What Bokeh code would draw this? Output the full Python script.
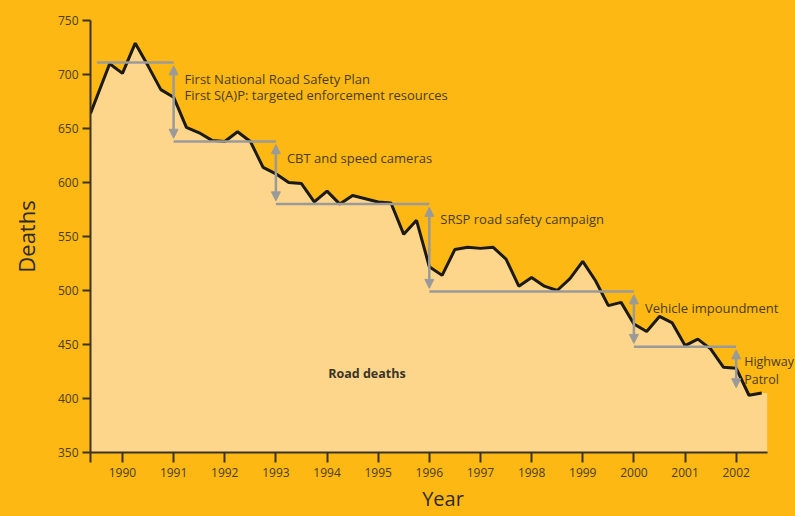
from bokeh.plotting import figure
from bokeh.models import Range1d, FixedTicker, ColumnDataSource, Arrow, NormalHead, Label
from bokeh.embed import file_html
from bokeh.resources import INLINE

# ---- data ----
years = [1989.375, 1989.75,
         1990.0, 1990.25, 1990.5, 1990.75,
         1991.0, 1991.25, 1991.5, 1991.75,
         1992.0, 1992.25, 1992.5, 1992.75,
         1993.0, 1993.25, 1993.5, 1993.75,
         1994.0, 1994.25, 1994.5, 1994.75,
         1995.0, 1995.25, 1995.5, 1995.75,
         1996.0, 1996.25, 1996.5, 1996.75,
         1997.0, 1997.25, 1997.5, 1997.75,
         1998.0, 1998.25, 1998.5, 1998.75,
         1999.0, 1999.25, 1999.5, 1999.75,
         2000.0, 2000.25, 2000.5, 2000.75,
         2001.0, 2001.25, 2001.5, 2001.75,
         2002.0, 2002.25, 2002.5]
deaths = [664, 710,
          701, 729, 708, 686,
          679, 651, 646, 639,
          638, 647, 638, 614,
          608, 600, 599, 582,
          592, 580, 588, 585,
          582, 581, 552, 565,
          522, 514, 538, 540,
          539, 540, 529, 504,
          512, 504, 500, 511,
          527, 509, 486, 489,
          469, 462, 476, 470,
          449, 455, 446, 429,
          428, 403, 405]

x_ticks = [1990, 1991, 1992, 1993, 1994, 1995, 1996, 1997, 1998, 1999, 2000, 2001, 2002]
y_ticks = [350, 400, 450, 500, 550, 600, 650, 700, 750]

# step levels of the interventions
level_years = [1989.5, 1991, 1993, 1996, 2000, 2002]
levels = [711, 638, 580, 499, 448, 407]

ann_text = ["First National Road Safety Plan",
            "First S(A)P: targeted enforcement resources",
            "CBT and speed cameras",
            "SRSP road safety campaign",
            "Vehicle impoundment",
            "Highway",
            "Patrol"]
ann_x = [1991, 1991, 1993, 1996, 2000, 2002, 2002]
ann_y = [696, 681, 623, 566, 484, 434, 418]

series_label = "Road deaths"

# ---- styles ----
BG = "#FDB813"
FILL = "#FED68B"
LINE = "#1c1a16"
GREY = "#9a9a9a"
TXT = "#4a3c1c"
AX = "#3b3324"
FONT = "Open Sans"

X0, X1 = 1989.375, 2002.607     # extent of the axis
XV = 2003.16                     # view extends to the right edge so labels are not cut
Y0, Y1 = 350, 750

p = figure(width=795, height=516, output_backend="svg", toolbar_location=None,
           x_range=Range1d(X0, XV), y_range=Range1d(Y0, Y1),
           min_border_left=90, min_border_right=0, min_border_top=20, min_border_bottom=64)
p.background_fill_color = BG
p.border_fill_color = BG
p.styles = {"background-color": BG}
p.outline_line_color = None
p.grid.visible = False

# area under the curve, extended to the end of the axis
fill_x = years + [X1]
fill_y = deaths + [deaths[-1]]
p.varea(x=fill_x, y1=[Y0] * len(fill_x), y2=fill_y, fill_color=FILL)
p.line(years, deaths, line_color=LINE, line_width=3)

# horizontal level lines
p.segment(x0=level_years[:-1], x1=level_years[1:], y0=levels[:-1], y1=levels[:-1],
          line_color=GREY, line_width=2.5)

# double headed arrows
gap = 3
arr_src = ColumnDataSource(dict(x=level_years[1:],
                                y0=[v - gap for v in levels[:-1]],
                                y1=[v + gap for v in levels[1:]]))
p.add_layout(Arrow(source=arr_src, x_start="x", y_start="y0", x_end="x", y_end="y1",
                   line_color=GREY, line_width=2.5,
                   start=NormalHead(size=9, fill_color=GREY, line_color=GREY, line_width=1),
                   end=NormalHead(size=9, fill_color=GREY, line_color=GREY, line_width=1)))

# annotation texts
for tx, xx, yy in zip(ann_text, ann_x, ann_y):
    last = (xx == ann_x[-1])
    p.add_layout(Label(x=xx, y=yy, text=tx, x_offset=8 if last else 11,
                       text_font=FONT, text_font_size="12.5px" if last else "13px",
                       text_color=TXT, text_baseline="alphabetic", text_align="left"))

p.add_layout(Label(x=1994.78, y=423, text=series_label, text_font=FONT,
                   text_font_size="12.5px", text_font_style="bold", text_color="#3a3428",
                   text_align="center", text_baseline="alphabetic"))

# axes
p.xaxis.ticker = FixedTicker(ticks=[X0] + x_ticks)
p.xaxis.major_label_overrides = {X0: ""}
p.xaxis.bounds = (X0, X1)
p.yaxis.ticker = FixedTicker(ticks=y_ticks)
for ax in (p.xaxis, p.yaxis):
    ax.axis_line_color = AX
    ax.axis_line_width = 2
    ax.major_tick_line_color = AX
    ax.major_tick_line_width = 2
    ax.major_tick_in = 0
    ax.minor_tick_line_color = None
    ax.major_label_text_font = FONT
    ax.major_label_text_font_size = "12px"
    ax.major_label_text_color = TXT
    ax.axis_label_text_font = FONT
    ax.axis_label_text_font_style = "normal"
    ax.axis_label_text_color = "#2e2a20"
p.xaxis.major_tick_out = 10
p.yaxis.major_tick_out = 8
p.xaxis.major_label_standoff = 5
p.yaxis.major_label_standoff = 4
p.xaxis.axis_label = "Year"
p.yaxis.axis_label = "Deaths"
p.xaxis.axis_label_text_font_size = "20px"
p.yaxis.axis_label_text_font_size = "22px"
p.xaxis.axis_label_standoff = 5
p.yaxis.axis_label_standoff = 14

open("out.html", "w").write(file_html(p, INLINE))
